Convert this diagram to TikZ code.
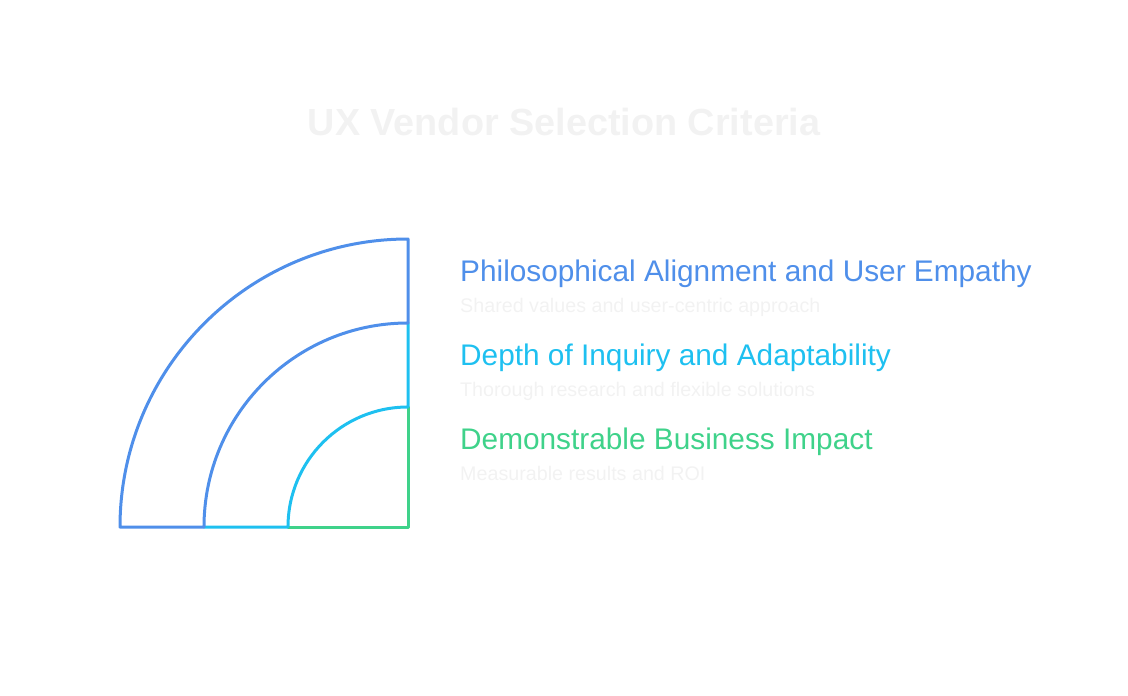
\documentclass[tikz,border=0pt]{standalone}
\usepackage{fontspec}
\setmainfont{Liberation Sans}
\definecolor{vblue}{HTML}{4F8FEA}
\definecolor{vcyan}{HTML}{1EC0F0}
\definecolor{vgreen}{HTML}{3FD28A}
\definecolor{vpale}{HTML}{F2F2F2}
\begin{document}
\begin{tikzpicture}[x=1pt,y=-1pt,
    band/.style={line width=3pt,line join=round,line cap=round},
    head/.style={anchor=base west,inner sep=0pt,font=\fontsize{29.8}{34}\selectfont},
    sub/.style={anchor=base west,inner sep=0pt,text=vpale,font=\fontsize{19.7}{23}\selectfont}]
      \useasboundingbox (0,0) rectangle (1128,696);
      % the three bands share the corner (408,527); radii 288, 204 and 120
      \coordinate (o) at (408,527);
      \draw[band,vgreen] (408,407)--(o)--(288,527);
      \draw[band,vcyan] (408,323)--(408,407) arc[start angle=-90,end angle=-180,radius=120]--(204,527);
      \draw[band,vblue] (204,527)--(120,527) arc[start angle=180,end angle=270,radius=288]
            --(408,323) arc[start angle=270,end angle=180,radius=204];
      \node[anchor=base,inner sep=0pt,text=vpale,font=\bfseries\fontsize{37.8}{44}\selectfont] (title) at (564,135) {UX Vendor Selection Criteria};
      \node[head,text=vblue] (h1) at (460,281) {Philosophical Alignment and User Empathy};
      \node[sub] (s1) at (460,312) {Shared values and user-centric approach};
      \node[head,text=vcyan] (h2) at (460,365) {Depth of Inquiry and Adaptability};
      \node[sub] (s2) at (460,396) {Thorough research and flexible solutions};
      \node[head,text=vgreen] (h3) at (460,449) {Demonstrable Business Impact};
      \node[sub] (s3) at (460,480) {Measurable results and ROI};
\end{tikzpicture}
\end{document}
